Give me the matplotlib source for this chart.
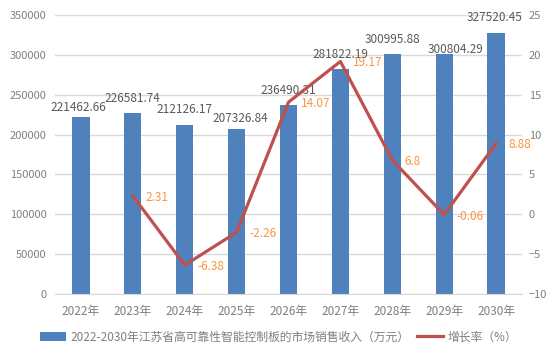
import matplotlib
matplotlib.use("Agg")
import matplotlib.pyplot as plt
from matplotlib.lines import Line2D
from matplotlib.patches import Patch

plt.rcParams['font.family'] = ['Noto Sans CJK SC', 'DejaVu Sans']

years = ["2022年", "2023年", "2024年", "2025年", "2026年", "2027年", "2028年", "2029年", "2030年"]
revenue = [221462.66, 226581.74, 212126.17, 207326.84, 236490.31, 281822.19, 300995.88, 300804.29, 327520.45]
growth = [None, 2.31, -6.38, -2.26, 14.07, 19.17, 6.8, -0.06, 8.88]
bar_label = "2022-2030年江苏省高可靠性智能控制板的市场销售收入（万元）"
line_label = "增长率（%）"

# label nudges (pixels) for bar value labels
bar_dx = [-3, 0, 0, 4, 0, 0, 0, 11, -1]
bar_dy = [10, 15, 15, 10, 15, 15, 15, 5, 15]

BAR = "#4F81BD"
LINE = "#C0504D"
ORANGE = "#F79646"
TICK = "#7F7F7F"
TXT = "#595959"

fig = plt.figure(figsize=(5.55, 3.57), dpi=100)
ax = fig.add_axes([55/555, 1-294/357, (522-55)/555, (294-15)/357])
x = list(range(len(years)))
ax.bar(x, revenue, width=0.33, color=BAR, zorder=2)
ax.set_ylim(0, 350000)
ax.set_yticks(range(0, 350001, 50000))
ax.set_xlim(-0.5, len(years)-0.5)
ax.set_xticks(x)
ax.set_xticklabels(years)
ax.grid(axis='y', color="#D9D9D9", linewidth=1, zorder=0)
for s in ax.spines.values():
    s.set_visible(False)
ax.spines['bottom'].set_visible(True)
ax.spines['bottom'].set_color("#D9D9D9")
ax.tick_params(axis='both', length=0, labelsize=8, colors=TICK, pad=6)
ax.tick_params(axis='x', pad=8, labelsize=8.5)

for i, v in enumerate(revenue):
    ax.annotate(f"{v:.2f}", (i, v), xytext=(bar_dx[i]*0.72, bar_dy[i]*0.72), textcoords='offset points',
                ha='center', va='center', fontsize=8.5, color=TXT, zorder=5)

ax2 = ax.twinx()
gx = [i for i, g in enumerate(growth) if g is not None]
gy = [g for g in growth if g is not None]
ax2.plot(gx, gy, color=LINE, linewidth=2.3, zorder=3)
ax2.set_ylim(-10, 25)
ax2.set_yticks(range(-10, 26, 5))
for s in ax2.spines.values():
    s.set_visible(False)
ax2.tick_params(axis='y', length=0, labelsize=8, colors=TICK, pad=5)
for i, g in zip(gx, gy):
    ax2.annotate(f"{g:g}", (i, g), xytext=(9, -1), textcoords='offset points',
                 ha='left', va='center', fontsize=8.5, color=ORANGE, zorder=5)

handles = [Patch(facecolor=BAR, edgecolor='none'), Line2D([0], [0], color=LINE, linewidth=2.3)]
fig.legend(handles, [bar_label, line_label], loc='center', bbox_to_anchor=(0.502, 1-337/357),
           ncol=2, frameon=False, fontsize=8.5, labelcolor=TICK, handlelength=2.2,
           handleheight=0.7, columnspacing=0.6, handletextpad=0.4)

fig.savefig("out.png", dpi=100, facecolor='white')
